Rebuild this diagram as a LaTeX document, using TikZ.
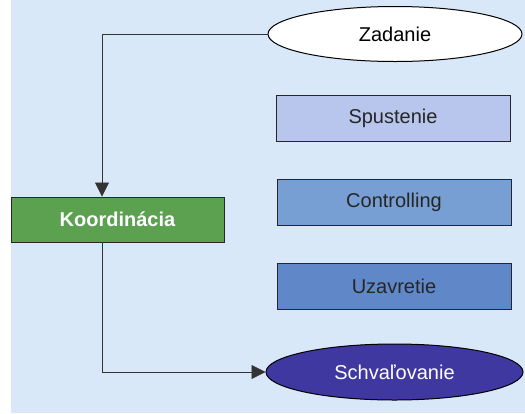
\documentclass[tikz,border=0pt]{standalone}
\usepackage{fontspec}
\setmainfont{Liberation Sans}
\usetikzlibrary{shapes.geometric,arrows.meta}
\definecolor{bgblue}{HTML}{D9E8F8}
\definecolor{cSpust}{HTML}{B8C6EE}
\definecolor{cContr}{HTML}{789FD4}
\definecolor{cUzav}{HTML}{6088C8}
\definecolor{cKoord}{HTML}{5BA150}
\definecolor{cSchv}{HTML}{3F38A0}
\tikzset{
  phase/.style={draw=black!85, line width=0.9pt, minimum width=234pt, minimum height=46pt, inner sep=0pt, font=\fontsize{20}{24}\selectfont, text=black!85},
  oval/.style={ellipse, draw=black, line width=1pt, inner sep=0pt, font=\fontsize{20}{24}\selectfont},
  link/.style={draw=black!80, line width=0.8pt},
  arrowlink/.style={link, -{Triangle[length=14pt,width=14pt]}}
}
\begin{document}
\begin{tikzpicture}[x=1pt,y=-1pt]
  \useasboundingbox (0,0) rectangle (525,413);
  \fill[bgblue] (11,0) rectangle (525,413);

  \node[oval, fill=white, minimum width=254pt, minimum height=55pt] (zad) at (395,34) {Zadanie};
  \node[phase, fill=cSpust] (spu) at (393,118) {Spustenie};
  \node[phase, fill=cContr] (con) at (394,202) {Controlling};
  \node[phase, fill=cUzav] (uza) at (394,286) {Uzavretie};
  \node[draw=black!85, line width=0.9pt, fill=cKoord, minimum width=213pt, minimum height=45pt, inner sep=0pt,
        text=white, font=\fontsize{20}{24}\selectfont\bfseries] (koo) at (117.5,219.5) {Koordinácia};
  \node[oval, fill=cSchv, text=white, minimum width=257pt, minimum height=56pt] (sch) at (394.5,372) {Schvaľovanie};

  \coordinate (c1) at (102,34);
  \coordinate (c2) at (102,372);
  \draw[arrowlink] (zad.west) -- (c1) -- (koo.north -| c1);
  \draw[arrowlink] (koo.south -| c2) -- (c2) -- (sch.west);
\end{tikzpicture}
\end{document}
